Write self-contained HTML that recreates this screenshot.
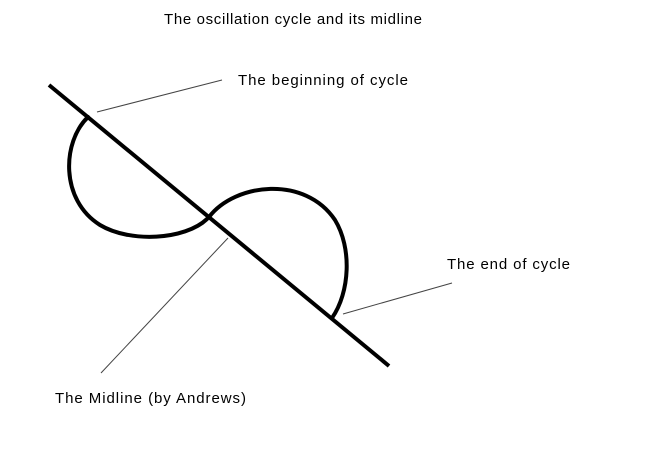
<!DOCTYPE html>
<html><head><meta charset="utf-8"><style>
html,body{margin:0;padding:0;background:#fff;}
svg{display:block;}
text{font-family:"Liberation Sans",sans-serif;font-size:15px;fill:#000;}
</style></head><body>
<svg width="660" height="472" viewBox="0 0 660 472" xmlns="http://www.w3.org/2000/svg">
<rect width="660" height="472" fill="#fff"/>
<text x="164" y="24" textLength="258">The oscillation cycle and its midline</text>
<text x="238" y="85" textLength="170">The beginning of cycle</text>
<text x="447" y="269" textLength="123">The end of cycle</text>
<text x="55" y="403" textLength="191">The Midline (by Andrews)</text>
<g stroke="#444" stroke-width="1" fill="none">
<line x1="97" y1="112" x2="222" y2="80"/>
<line x1="101" y1="373" x2="228" y2="238"/>
<line x1="343" y1="314" x2="452" y2="283"/>
</g>
<line x1="49" y1="85" x2="389" y2="366" stroke="#000" stroke-width="4"/>
<g stroke="#000" stroke-width="4" fill="none" stroke-linecap="round">
<path d="M88,117 C62,142 60,200 100,225 C130,243 185,240 207,219"/>
<path d="M209,217 C235,183 305,175 335,220 C352,248 350,292 332,318"/>
</g>
</svg>
</body></html>
